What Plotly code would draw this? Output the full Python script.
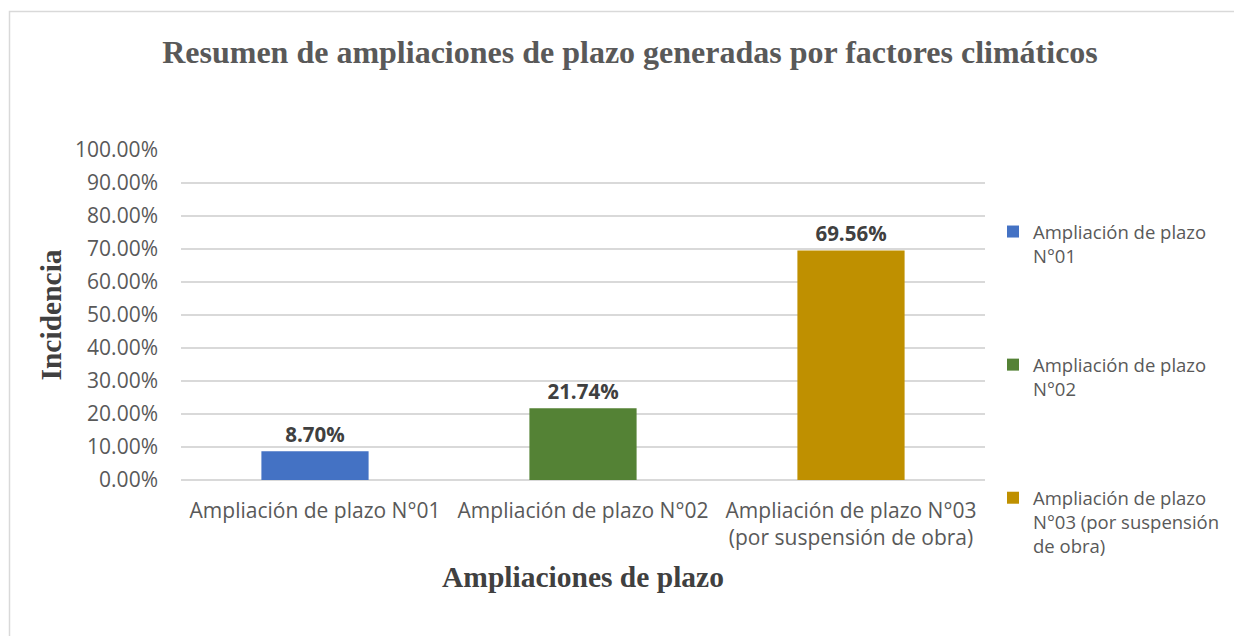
import plotly.graph_objects as go

categories = ["Ampliación de plazo N°01", "Ampliación de plazo N°02",
              "Ampliación de plazo N°03<br>(por suspensión de obra)"]
legend_names = ["Ampliación de plazo<br>N°01", "Ampliación de plazo<br>N°02",
                "Ampliación de plazo<br>N°03 (por suspensión<br>de obra)"]
values = [0.0870, 0.2174, 0.6956]
labels = ["8.70%", "21.74%", "69.56%"]
colors = ["#4472C4", "#548235", "#BF9000"]
y_ticks = [i / 10 for i in range(11)]

# page body has an 8px margin; work in screen coordinates and shift
OFF = 8
W, H = 1242 - OFF, 636 - OFF
L, T = 181 - OFF, 150 - OFF
R = W - (985 - OFF)
B = H - (480 - OFF)
pw, ph = W - L - R, H - T - B

def px_x(x):  # screen x -> paper
    return (x - OFF - L) / pw

def px_y(y):  # screen y -> paper
    return (H - B - (y - OFF)) / ph

fig = go.Figure()
for i in range(3):
    fig.add_trace(go.Bar(
        x=[categories[i]], y=[values[i]], name=legend_names[i],
        marker=dict(color=colors[i], line=dict(width=0)),
        width=0.4, text=[labels[i]], textposition="outside",
        textfont=dict(family="Open Sans", size=20.5, color="#404040", weight="bold"),
        cliponaxis=False, legendgroup=str(i),
    ))

fig.update_layout(
    width=W, height=H,
    margin=dict(l=L, r=R, t=T, b=B),
    paper_bgcolor="white", plot_bgcolor="white",
    barmode="overlay",
    title=dict(text="<b>Resumen de ampliaciones de plazo generadas por factores climáticos</b>",
               font=dict(family="Liberation Serif", size=32, color="#595959"),
               x=px_x(630), xref="paper", xanchor="center",
               y=1 - (52 - OFF) / H, yanchor="middle"),
    showlegend=True,
    legend=dict(x=px_x(993), y=px_y(213), xanchor="left", yanchor="top",
                valign="top", tracegroupgap=82, itemwidth=30, maxheight=800,
                font=dict(family="Open Sans", size=18.5, color="#595959"),
                bgcolor="rgba(0,0,0,0)"),
    xaxis=dict(categoryorder="array", categoryarray=categories,
               tickfont=dict(family="Open Sans", size=21, color="#595959"),
               showgrid=False, showline=False, ticks="", ticklabelstandoff=16,
               title=dict(text="<b>Ampliaciones de plazo</b>", standoff=16,
                          font=dict(family="Liberation Serif", size=29.5, color="#404040"))),
    yaxis=dict(range=[0, 1.0], tickvals=y_ticks, tickformat=".2%",
               tickfont=dict(family="Open Sans", size=21, color="#595959"),
               showgrid=True, gridcolor="#D9D9D9", gridwidth=1.5,
               zeroline=True, zerolinecolor="#D9D9D9", zerolinewidth=1.5,
               showline=False, ticks="", ticklen=0, ticklabelstandoff=22,
               title=dict(text="<b>Incidencia</b>", standoff=4,
                          font=dict(family="Liberation Serif", size=29.5, color="#404040"))),
    shapes=[dict(type="rect", xref="paper", yref="paper",
                 x0=px_x(9.5), x1=px_x(1300), y0=px_y(700), y1=px_y(11.5),
                 line=dict(color="#D9D9D9", width=1.5), fillcolor="rgba(0,0,0,0)",
                 layer="below")],
)

fig.write_html("out.html")
